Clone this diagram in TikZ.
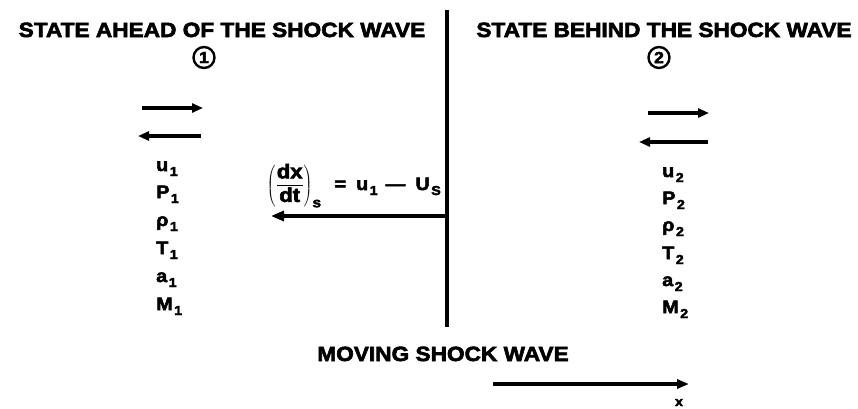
\documentclass[tikz,border=0pt]{standalone}
\usepackage{fontspec}
\setmainfont{Liberation Sans}[FakeStretch=1.1, BoldFeatures={FakeBold=3}]
\usetikzlibrary{arrows.meta}
\newcommand{\sbs}[1]{\kern1.5pt\raisebox{-5pt}{\fontsize{13}{13}\selectfont #1}}
\tikzset{
  title/.style={font=\fontsize{20.6}{20.6}\selectfont\bfseries, inner sep=0pt, anchor=base},
  lab/.style={font=\fontsize{18}{18}\selectfont\bfseries, inner sep=0pt, anchor=base west},
  num/.style={circle, draw, line width=2.4pt, minimum size=21pt, inner sep=0pt, font=\fontsize{16}{16}\selectfont\bfseries},
  smallarrow/.style={line width=3.4pt, -{Triangle[length=11pt,width=9pt]}},
  bigarrow/.style={line width=4pt, -{Triangle[length=13pt,width=10pt]}},
}
\begin{document}
\begin{tikzpicture}[x=1pt,y=-1pt]
\useasboundingbox (0,0) rectangle (858,408);
% titles
\node[title] (t1) at (222,37) {STATE AHEAD OF THE SHOCK WAVE};
\node[title] (t2) at (664,37) {STATE BEHIND THE SHOCK WAVE};
\node[num] (c1) at (204,57.5) {1};
\node[num] (c2) at (659,57.5) {2};
% left double arrows
\coordinate (a1s) at (142,108); \coordinate (a1e) at (203,108);
\coordinate (b1s) at (201,136); \coordinate (b1e) at (138,136);
\draw[smallarrow] (a1s) -- (a1e);
\draw[smallarrow] (b1s) -- (b1e);
% right double arrows
\coordinate (a2s) at (648,113); \coordinate (a2e) at (709,113);
\coordinate (b2s) at (708,142); \coordinate (b2e) at (639,142);
\draw[smallarrow] (a2s) -- (a2e);
\draw[smallarrow] (b2s) -- (b2e);
% state labels
\node[lab] (u1) at (156,171) {u\sbs{1}};
\node[lab] (p1) at (156,198) {P\sbs{1}};
\node[lab] (r1) at (156,226) {ρ\sbs{1}};
\node[lab] (T1) at (156,254) {T\sbs{1}};
\node[lab] (s1) at (156,282) {a\sbs{1}};
\node[lab] (m1) at (156,310) {M\sbs{1}};
\node[lab] (u2) at (662,177) {u\sbs{2}};
\node[lab] (p2) at (662,204) {P\sbs{2}};
\node[lab] (r2) at (662,231) {ρ\sbs{2}};
\node[lab] (T2) at (662,259) {T\sbs{2}};
\node[lab] (s2) at (662,286) {a\sbs{2}};
\node[lab] (m2) at (662,313) {M\sbs{2}};
% shock
\coordinate (shtop) at (447,10);
\coordinate (shbot) at (447,327);
\draw[line width=3.5pt] (shtop) -- (shbot);
\coordinate (fs) at (447,216);
\coordinate (fe) at (271,216);
\draw[bigarrow] (fs) -- (fe);
\node[anchor=base east, inner sep=0pt, font=\fontsize{18}{18}\selectfont\bfseries] (form) at (441,190)
  {$\displaystyle\left(\frac{\mbox{\fontsize{20}{20}\selectfont dx}}{\mbox{\fontsize{20}{20}\selectfont dt}}\right)_{\mbox{\fontsize{14}{14}\selectfont s}}$\hspace{13pt}=\hspace{10pt}u\sbs{1}\hspace{8pt}—\hspace{10pt}U\sbs{S}};
\node[title] (mv) at (443,361) {MOVING SHOCK WAVE};
\coordinate (xs) at (493,384);
\coordinate (xe) at (689,384);
\draw[line width=3.5pt, -{Triangle[length=12pt,width=9pt]}] (xs) -- (xe);
\node[anchor=base, inner sep=0pt, font=\fontsize{13}{13}\selectfont\bfseries] (xl) at (679,406) {x};
\end{tikzpicture}
\end{document}
